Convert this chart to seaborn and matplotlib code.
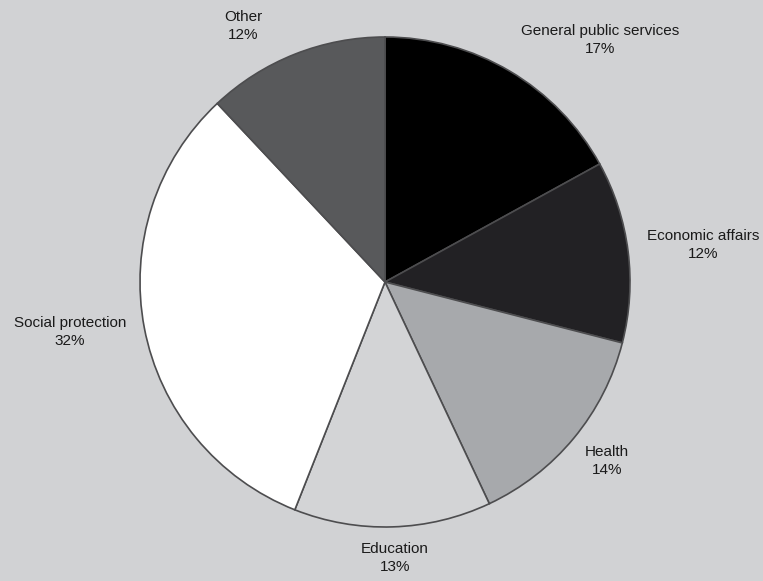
import matplotlib
matplotlib.use("Agg")
import matplotlib.pyplot as plt
import seaborn as sns

categories = ["General public services", "Economic affairs", "Health",
              "Education", "Social protection", "Other"]
values = [17, 12, 14, 13, 32, 12]
colors = ["#000000", "#222124", "#a7a9ac", "#d3d4d6", "#ffffff", "#58595b"]

# label anchor positions (image pixels, x, y from top) - layout only
label_pos = [(600, 40), (703, 245), (607, 461), (395, 558), (70, 332), (243, 26)]

sns.set_style("white")
plt.rcParams['font.family'] = ['Liberation Sans', 'DejaVu Sans']

W, H = 763, 581
bg = "#d1d2d4"
fig = plt.figure(figsize=(W / 100, H / 100), dpi=100, facecolor=bg)
ax = fig.add_axes([0, 0, 1, 1])
ax.set_facecolor(bg)
ax.set_xlim(0, W)
ax.set_ylim(0, H)
ax.set_aspect("equal")
ax.axis("off")

ax.pie(values, colors=sns.color_palette(colors), startangle=90, counterclock=False,
       center=(385, H - 282), radius=245,
       wedgeprops=dict(edgecolor="#4d4d4f", linewidth=1.2))
ax.set_xlim(0, W)
ax.set_ylim(0, H)

for cat, v, (x, y) in zip(categories, values, label_pos):
    ax.text(x, H - y, f"{cat}\n{v}%", ha="center", va="center",
            fontsize=11, color="#1a1a1a", linespacing=1.4)

fig.savefig("out.png", dpi=100, facecolor=bg)
